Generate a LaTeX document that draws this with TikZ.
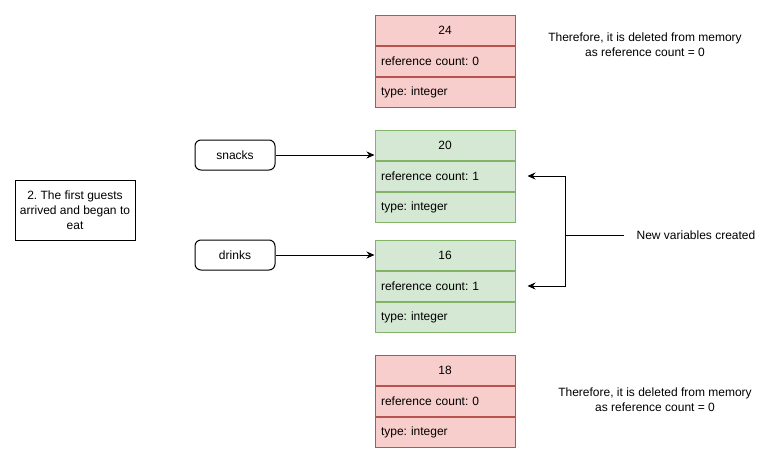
\documentclass[tikz,border=0pt]{standalone}
\usepackage{fontspec}
\setmainfont{Liberation Sans}
\usetikzlibrary{arrows.meta, positioning}

\definecolor{delfill}{HTML}{F8CECC}
\definecolor{deldraw}{HTML}{B85450}
\definecolor{newfill}{HTML}{D5E8D4}
\definecolor{newdraw}{HTML}{82B366}

\frenchspacing

\begin{document}
\begin{tikzpicture}[
  x=1pt, y=-1pt,
  txt/.style ={font=\fontsize{12}{15}\selectfont, align=center},
  hdr/.style ={draw, rectangle, minimum width=140pt, minimum height=30pt,
               inner sep=0pt, line width=1pt, txt},
  row/.style ={draw, rectangle, text width=128pt, minimum height=30pt,
               inner xsep=6pt, inner ysep=0pt, align=left, line width=1pt,
               font=\fontsize{12}{15}\selectfont},
  del/.style ={draw=deldraw, fill=delfill},
  new/.style ={draw=newdraw, fill=newfill},
  var/.style ={draw, rectangle, rounded corners=6pt, minimum width=80pt,
               minimum height=30pt, line width=1pt, txt},
  note/.style={draw, rectangle, minimum width=120pt, minimum height=60pt,
               line width=1pt, txt},
  arr/.style ={-{Stealth[length=8pt, width=7pt]}, line width=1pt},
]
\useasboundingbox (0,0) rectangle (781,461);

% records in memory
\node[hdr, del] (n24) at (445,30) {24};
\node[row, del, below=0pt of n24]   (n24rc) {reference count: 0};
\node[row, del, below=0pt of n24rc] (n24ty) {type: integer};

\node[hdr, new] (n20) at (445,145) {20};
\node[row, new, below=0pt of n20]   (n20rc) {reference count: 1};
\node[row, new, below=0pt of n20rc] (n20ty) {type: integer};

\node[hdr, new] (n16) at (445,255) {16};
\node[row, new, below=0pt of n16]   (n16rc) {reference count: 1};
\node[row, new, below=0pt of n16rc] (n16ty) {type: integer};

\node[hdr, del] (n18) at (445,370) {18};
\node[row, del, below=0pt of n18]   (n18rc) {reference count: 0};
\node[row, del, below=0pt of n18rc] (n18ty) {type: integer};

% variables and notes
\node[var]  (snacks) at (235,155) {snacks};
\node[var]  (drinks) at (235,255) {drinks};
\node[note] (step2)  at (75,210)  {2. The first guests\\arrived and began to\\eat};

\node[txt] (gone24) at (645,45)  {Therefore, it is deleted from memory\\as reference count = 0};
\node[txt] (gone18) at (655,400) {Therefore, it is deleted from memory\\as reference count = 0};
\node[txt, inner sep=12pt] (created) at (696,235) {New variables created};

\draw[arr] (snacks.east) -- (snacks.east -| n20.west);
\draw[arr] (drinks.east) -- (n16.west);

\coordinate (fork) at (565,235);
\draw[line width=1pt] (created.west) -- (fork);
\draw[arr] (fork) |- ([xshift=12pt]n20rc.east);
\draw[arr] (fork) |- ([xshift=12pt]n16rc.east);
\end{tikzpicture}
\end{document}
